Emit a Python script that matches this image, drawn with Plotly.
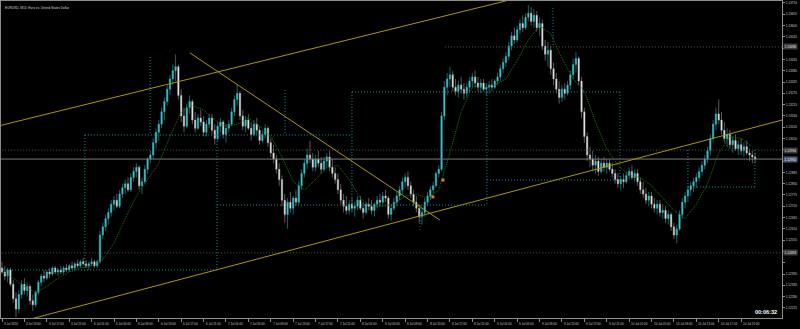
import plotly.graph_objects as go

title_text = "EURUSD, M15: Euro vs. United States Dollar"
timer_text = "00:06:32"

# ---- OHLC (30-min resolution) ----
open_ = [1.1242,1.1240,1.1238,1.1241,1.1234,1.1227,1.1222,1.1229,1.1234,1.1231,
1.1233,1.1226,1.1224,1.1230,1.1235,1.1238,1.1237,1.1240,1.1239,1.1242,
1.1240,1.1241,1.1240,1.1242,1.1241,1.1243,1.1242,1.1244,1.1243,1.1245,
1.1244,1.1243,1.1244,1.1245,1.1243,1.1245,1.1258,1.1262,1.1266,1.1269,
1.1273,1.1275,1.1272,1.1278,1.1281,1.1283,1.1280,1.1286,1.1289,1.1291,
1.1282,1.1284,1.1290,1.1295,1.1297,1.1303,1.1308,1.1312,1.1318,1.1323,
1.1329,1.1334,1.1338,1.1340,1.1326,1.1316,1.1311,1.1320,1.1323,1.1314,
1.1310,1.1315,1.1313,1.1308,1.1312,1.1315,1.1309,1.1305,1.1311,1.1313,
1.1307,1.1310,1.1312,1.1318,1.1324,1.1327,1.1316,1.1311,1.1314,1.1310,
1.1307,1.1312,1.1309,1.1304,1.1307,1.1310,1.1303,1.1298,1.1295,1.1290,
1.1285,1.1275,1.1268,1.1274,1.1271,1.1276,1.1274,1.1282,1.1288,1.1293,
1.1297,1.1295,1.1291,1.1295,1.1293,1.1290,1.1294,1.1296,1.1291,1.1288,
1.1285,1.1280,1.1275,1.1272,1.1270,1.1273,1.1271,1.1272,1.1275,1.1271,
1.1269,1.1273,1.1272,1.1270,1.1273,1.1275,1.1274,1.1277,1.1276,1.1268,
1.1271,1.1274,1.1277,1.1280,1.1284,1.1286,1.1282,1.1278,1.1274,1.1271,
1.1267,1.1269,1.1274,1.1277,1.1280,1.1282,1.1288,1.1290,1.1316,1.1330,
1.1334,1.1336,1.1330,1.1328,1.1331,1.1329,1.1327,1.1330,1.1333,1.1335,
1.1332,1.1330,1.1332,1.1329,1.1330,1.1331,1.1330,1.1333,1.1335,1.1339,
1.1342,1.1345,1.1350,1.1355,1.1353,1.1358,1.1361,1.1359,1.1364,1.1366,
1.1362,1.1365,1.1359,1.1361,1.1350,1.1346,1.1348,1.1339,1.1334,1.1329,
1.1325,1.1329,1.1327,1.1331,1.1336,1.1341,1.1344,1.1333,1.1318,1.1306,
1.1297,1.1295,1.1292,1.1294,1.1289,1.1293,1.1291,1.1293,1.1290,1.1288,
1.1285,1.1283,1.1285,1.1284,1.1287,1.1289,1.1286,1.1288,1.1284,1.1280,
1.1278,1.1275,1.1277,1.1273,1.1271,1.1273,1.1269,1.1270,1.1266,1.1268,
1.1262,1.1258,1.1261,1.1268,1.1274,1.1277,1.1280,1.1282,1.1284,1.1286,
1.1289,1.1292,1.1295,1.1299,1.1305,1.1312,1.1317,1.1314,1.1309,1.1305,
1.1307,1.1302,1.1304,1.1300,1.1302,1.1299,1.1301,1.1298,1.1297,1.1296]

high = [1.1245,1.1243,1.1242,1.1242,1.1236,1.1230,1.1231,1.1236,1.1237,1.1235,
1.1234,1.1229,1.1231,1.1236,1.1239,1.1241,1.1241,1.1242,1.1243,1.1243,
1.1242,1.1243,1.1243,1.1244,1.1244,1.1245,1.1245,1.1246,1.1246,1.1247,
1.1246,1.1245,1.1247,1.1246,1.1246,1.1260,1.1264,1.1268,1.1271,1.1275,
1.1277,1.1278,1.1280,1.1283,1.1285,1.1286,1.1288,1.1291,1.1293,1.1292,
1.1286,1.1292,1.1296,1.1299,1.1305,1.1310,1.1314,1.1320,1.1325,1.1331,
1.1336,1.1341,1.1346,1.1341,1.1329,1.1320,1.1322,1.1326,1.1324,1.1318,
1.1317,1.1319,1.1316,1.1314,1.1317,1.1317,1.1312,1.1313,1.1315,1.1314,
1.1312,1.1314,1.1320,1.1326,1.1331,1.1328,1.1319,1.1316,1.1317,1.1313,
1.1314,1.1315,1.1311,1.1309,1.1312,1.1311,1.1305,1.1302,1.1297,1.1293,
1.1287,1.1278,1.1276,1.1279,1.1277,1.1280,1.1284,1.1290,1.1295,1.1300,
1.1304,1.1298,1.1297,1.1299,1.1296,1.1296,1.1298,1.1299,1.1295,1.1291,
1.1288,1.1283,1.1278,1.1277,1.1275,1.1276,1.1274,1.1277,1.1277,1.1274,
1.1274,1.1276,1.1275,1.1274,1.1277,1.1278,1.1279,1.1280,1.1277,1.1273,
1.1276,1.1279,1.1282,1.1286,1.1288,1.1289,1.1284,1.1280,1.1277,1.1273,
1.1271,1.1276,1.1279,1.1282,1.1284,1.1289,1.1292,1.1318,1.1333,1.1337,
1.1340,1.1338,1.1334,1.1333,1.1335,1.1332,1.1332,1.1335,1.1337,1.1338,
1.1335,1.1334,1.1334,1.1332,1.1333,1.1334,1.1334,1.1337,1.1341,1.1344,
1.1347,1.1352,1.1357,1.1359,1.1360,1.1363,1.1365,1.1366,1.1370,1.1369,
1.1368,1.1367,1.1364,1.1363,1.1353,1.1352,1.1350,1.1342,1.1337,1.1333,
1.1331,1.1332,1.1333,1.1338,1.1344,1.1347,1.1345,1.1335,1.1320,1.1308,
1.1301,1.1299,1.1297,1.1296,1.1295,1.1296,1.1295,1.1295,1.1293,1.1290,
1.1288,1.1287,1.1288,1.1289,1.1291,1.1292,1.1290,1.1290,1.1286,1.1284,
1.1281,1.1279,1.1279,1.1276,1.1275,1.1275,1.1273,1.1272,1.1270,1.1269,
1.1264,1.1263,1.1270,1.1276,1.1279,1.1282,1.1284,1.1286,1.1288,1.1291,
1.1294,1.1297,1.1301,1.1307,1.1314,1.1320,1.1324,1.1318,1.1313,1.1310,
1.1309,1.1306,1.1307,1.1304,1.1305,1.1303,1.1304,1.1300,1.1299,1.1298]

low = [1.1239,1.1236,1.1235,1.1233,1.1225,1.1218,1.1220,1.1227,1.1229,1.1228,
1.1224,1.1221,1.1223,1.1229,1.1233,1.1235,1.1236,1.1237,1.1238,1.1239,
1.1238,1.1239,1.1239,1.1240,1.1240,1.1241,1.1241,1.1242,1.1242,1.1243,
1.1242,1.1241,1.1243,1.1242,1.1242,1.1244,1.1256,1.1260,1.1263,1.1267,
1.1270,1.1271,1.1271,1.1276,1.1278,1.1279,1.1279,1.1284,1.1286,1.1280,
1.1278,1.1283,1.1288,1.1293,1.1295,1.1300,1.1304,1.1310,1.1314,1.1321,
1.1326,1.1331,1.1333,1.1324,1.1313,1.1308,1.1310,1.1317,1.1312,1.1308,
1.1309,1.1311,1.1306,1.1306,1.1310,1.1307,1.1302,1.1304,1.1308,1.1305,
1.1303,1.1308,1.1311,1.1316,1.1321,1.1314,1.1309,1.1308,1.1309,1.1304,
1.1306,1.1307,1.1302,1.1303,1.1305,1.1301,1.1296,1.1293,1.1288,1.1282,
1.1272,1.1264,1.1261,1.1269,1.1268,1.1272,1.1273,1.1280,1.1286,1.1290,
1.1293,1.1289,1.1289,1.1291,1.1288,1.1289,1.1291,1.1289,1.1286,1.1283,
1.1278,1.1273,1.1269,1.1268,1.1268,1.1269,1.1267,1.1270,1.1270,1.1266,
1.1268,1.1270,1.1268,1.1267,1.1271,1.1272,1.1273,1.1274,1.1266,1.1265,
1.1270,1.1272,1.1275,1.1278,1.1281,1.1280,1.1276,1.1272,1.1269,1.1264,
1.1263,1.1267,1.1272,1.1275,1.1278,1.1281,1.1286,1.1289,1.1314,1.1326,
1.1330,1.1328,1.1326,1.1325,1.1327,1.1324,1.1325,1.1328,1.1330,1.1330,
1.1328,1.1327,1.1328,1.1326,1.1327,1.1328,1.1329,1.1331,1.1333,1.1337,
1.1340,1.1343,1.1348,1.1351,1.1352,1.1356,1.1357,1.1358,1.1362,1.1360,
1.1359,1.1357,1.1355,1.1348,1.1343,1.1340,1.1336,1.1331,1.1327,1.1322,
1.1323,1.1324,1.1326,1.1329,1.1334,1.1337,1.1331,1.1315,1.1303,1.1294,
1.1291,1.1289,1.1288,1.1287,1.1288,1.1289,1.1288,1.1289,1.1286,1.1283,
1.1281,1.1280,1.1281,1.1283,1.1285,1.1285,1.1284,1.1282,1.1278,1.1276,
1.1273,1.1272,1.1271,1.1269,1.1268,1.1267,1.1266,1.1264,1.1263,1.1260,
1.1256,1.1254,1.1260,1.1266,1.1271,1.1274,1.1277,1.1279,1.1281,1.1284,
1.1287,1.1290,1.1293,1.1297,1.1303,1.1309,1.1312,1.1307,1.1303,1.1301,
1.1300,1.1298,1.1299,1.1297,1.1297,1.1296,1.1297,1.1294,1.1293,1.1293]

close = [1.1240,1.1238,1.1241,1.1234,1.1227,1.1222,1.1229,1.1234,1.1231,1.1233,
1.1226,1.1224,1.1230,1.1235,1.1238,1.1237,1.1240,1.1239,1.1242,1.1240,
1.1241,1.1240,1.1242,1.1241,1.1243,1.1242,1.1244,1.1243,1.1245,1.1244,
1.1243,1.1244,1.1245,1.1243,1.1245,1.1258,1.1262,1.1266,1.1269,1.1273,
1.1275,1.1272,1.1278,1.1281,1.1283,1.1280,1.1286,1.1289,1.1291,1.1282,
1.1284,1.1290,1.1295,1.1297,1.1303,1.1308,1.1312,1.1318,1.1323,1.1329,
1.1334,1.1338,1.1340,1.1326,1.1316,1.1311,1.1320,1.1323,1.1314,1.1310,
1.1315,1.1313,1.1308,1.1312,1.1315,1.1309,1.1305,1.1311,1.1313,1.1307,
1.1310,1.1312,1.1318,1.1324,1.1327,1.1316,1.1311,1.1314,1.1310,1.1307,
1.1312,1.1309,1.1304,1.1307,1.1310,1.1303,1.1298,1.1295,1.1290,1.1285,
1.1275,1.1268,1.1274,1.1271,1.1276,1.1274,1.1282,1.1288,1.1293,1.1297,
1.1295,1.1291,1.1295,1.1293,1.1290,1.1294,1.1296,1.1291,1.1288,1.1285,
1.1280,1.1275,1.1272,1.1270,1.1273,1.1271,1.1272,1.1275,1.1271,1.1269,
1.1273,1.1272,1.1270,1.1273,1.1275,1.1274,1.1277,1.1276,1.1268,1.1271,
1.1274,1.1277,1.1280,1.1284,1.1286,1.1282,1.1278,1.1274,1.1271,1.1267,
1.1269,1.1274,1.1277,1.1280,1.1282,1.1288,1.1290,1.1316,1.1330,1.1334,
1.1336,1.1330,1.1328,1.1331,1.1329,1.1327,1.1330,1.1333,1.1335,1.1332,
1.1330,1.1332,1.1329,1.1330,1.1331,1.1330,1.1333,1.1335,1.1339,1.1342,
1.1345,1.1350,1.1355,1.1353,1.1358,1.1361,1.1359,1.1364,1.1366,1.1362,
1.1365,1.1359,1.1361,1.1350,1.1346,1.1348,1.1339,1.1334,1.1329,1.1325,
1.1329,1.1327,1.1331,1.1336,1.1341,1.1344,1.1333,1.1318,1.1306,1.1297,
1.1295,1.1292,1.1294,1.1289,1.1293,1.1291,1.1293,1.1290,1.1288,1.1285,
1.1283,1.1285,1.1284,1.1287,1.1289,1.1286,1.1288,1.1284,1.1280,1.1278,
1.1275,1.1277,1.1273,1.1271,1.1273,1.1269,1.1270,1.1266,1.1268,1.1262,
1.1258,1.1261,1.1268,1.1274,1.1277,1.1280,1.1282,1.1284,1.1286,1.1289,
1.1292,1.1295,1.1299,1.1305,1.1312,1.1317,1.1314,1.1309,1.1305,1.1307,
1.1302,1.1304,1.1300,1.1302,1.1299,1.1301,1.1298,1.1297,1.1296,1.1295]

# moving average read every 4 bars
ma_bars = list(range(0, 270, 4))
ma_vals = [1.1240,1.1237,1.1233,1.1230,1.1233,1.1237,1.1240,1.1242,1.1243,1.1246,
1.1254,1.1266,1.1277,1.1285,1.1293,1.1306,1.1318,1.1321,1.1319,1.1314,
1.1311,1.1312,1.1315,1.1311,1.1306,1.1296,1.1284,1.1280,1.1285,1.1291,
1.1292,1.1285,1.1276,1.1272,1.1272,1.1273,1.1277,1.1278,1.1276,1.1280,
1.1298,1.1318,1.1330,1.1331,1.1331,1.1334,1.1343,1.1353,1.1360,1.1356,
1.1344,1.1334,1.1328,1.1313,1.1300,1.1292,1.1287,1.1286,1.1282,1.1276,
1.1270,1.1266,1.1273,1.1283,1.1298,1.1306,1.1305,1.1301]

# time axis labels (every 8 bars)
time_label_bars = list(range(0, 265, 8))
time_labels = ["3 Jul 2020","3 Jul 13:00","3 Jul 17:00","3 Jul 21:00",
"6 Jul 01:00","6 Jul 05:00","6 Jul 09:00","6 Jul 13:00","6 Jul 17:00","6 Jul 21:00",
"7 Jul 01:00","7 Jul 05:00","7 Jul 09:00","7 Jul 13:00","7 Jul 17:00","7 Jul 21:00",
"8 Jul 01:00","8 Jul 05:00","8 Jul 09:00","8 Jul 13:00","8 Jul 17:00","8 Jul 21:00",
"9 Jul 01:00","9 Jul 05:00","9 Jul 09:00","9 Jul 13:00","9 Jul 17:00","9 Jul 21:00",
"10 Jul 01:00","10 Jul 05:00","10 Jul 09:00","10 Jul 13:00","10 Jul 17:00","10 Jul 21:00"]

price_ticks = [1.13710,1.13655,1.13600,1.13545,1.13490,1.13435,1.13380,1.13325,
1.13270,1.13215,1.13160,1.13105,1.13050,1.12995,1.12940,1.12885,1.12830,1.12775,
1.12720,1.12665,1.12610,1.12555,1.12500,1.12445,1.12390,1.12335,1.12280,1.12225]
# tick labels hidden behind the highlighted line-price boxes
hidden_tick_labels = [1.13490, 1.12995, 1.12940, 1.12445]

# trend lines (bar, price) pairs
trend_upper = [(-0.71, 1.13113), (181.4, 1.13725)]
trend_lower = [(7.5, 1.12161), (278.6, 1.13140)]
trend_down = [(67.1, 1.13467), (156.4, 1.12653)]

# dotted range boxes segments (x0, y0, x1, y1) in bar / price
box_segments = [
    (-0.7, 1.12410, 76.8, 1.12410),
    (29.6, 1.13067, 29.6, 1.12410),
    (29.6, 1.13067, 125.0, 1.13067),
    (52.9, 1.13447, 52.9, 1.13067),
    (76.8, 1.13067, 76.8, 1.12410),
    (76.8, 1.12726, 173.2, 1.12726),
    (101.1, 1.13286, 101.1, 1.13067),
    (125.0, 1.13277, 125.0, 1.12726),
    (125.0, 1.13277, 220.7, 1.13277),
    (149.3, 1.12726, 149.3, 1.12605),
    (173.2, 1.13277, 173.2, 1.12726),
    (173.2, 1.12848, 220.7, 1.12848),
    (196.8, 1.13686, 196.8, 1.13496),
    (220.7, 1.13277, 220.7, 1.12848),
    (245.0, 1.12994, 245.0, 1.12814),
    (245.0, 1.12814, 268.9, 1.12814),
    (268.9, 1.12994, 268.9, 1.12814),
]

# horizontal level lines: (start bar, price, style)
level_lines = [(158.2, 1.13496, "dot"), (-1, 1.12994, "dot"), (-1, 1.12950, "solid"), (-1, 1.12493, "dot")]
level_labels = [(1.13496, "1.13496", "#3a3a3a"), (1.12994, "1.12994", "#3a3a3a"),
                (1.12950, "1.12950", "#4a5878"), (1.12493, "1.12493", "#3a3a3a")]

trade_marks_x = [153.9, 157.5]
trade_marks_y = [1.12766, 1.12848]

X_MAX = 278.6
bars = list(range(len(close)))

fig = go.Figure()

bx, by = [], []
for x0, y0, x1, y1 in box_segments:
    bx += [x0, x1, None]
    by += [y0, y1, None]
fig.add_trace(go.Scatter(x=bx, y=by, mode="lines", line=dict(color="#1d8f98", width=1, dash="1px,2px"),
                         hoverinfo="skip", showlegend=False))

for x0, p, st in level_lines:
    fig.add_trace(go.Scatter(x=[x0, X_MAX + 1], y=[p, p], mode="lines",
                             line=dict(color="#7a7a7a" if st == "solid" else "#5a5a5a", width=1,
                                       dash="solid" if st == "solid" else "1px,2px"),
                             hoverinfo="skip", showlegend=False))

for seg in (trend_upper, trend_lower, trend_down):
    fig.add_trace(go.Scatter(x=[seg[0][0], seg[1][0]], y=[seg[0][1], seg[1][1]], mode="lines",
                             line=dict(color="#a8960c", width=1), hoverinfo="skip", showlegend=False))

fig.add_trace(go.Candlestick(
    x=bars, open=open_, high=high, low=low, close=close,
    increasing=dict(line=dict(color="#36c4cc", width=0.5), fillcolor="#36c4cc"),
    decreasing=dict(line=dict(color="#b4b4b4", width=0.5), fillcolor="#f2f2f2"),
    whiskerwidth=0, hoverinfo="skip", showlegend=False))

fig.add_trace(go.Scatter(x=ma_bars, y=ma_vals, mode="lines",
                         line=dict(color="#1c7a1c", width=1, dash="1px,1px"),
                         hoverinfo="skip", showlegend=False))

fig.add_trace(go.Scatter(x=trade_marks_x, y=trade_marks_y, mode="markers",
                         marker=dict(color="#e8781e", size=3, symbol="square"),
                         hoverinfo="skip", showlegend=False))

annotations = []
for b, t in zip(time_label_bars, time_labels):
    annotations.append(dict(x=b, y=0, xref="x", yref="paper", text=t, showarrow=False,
                            xanchor="left", yanchor="top", xshift=0, yshift=-2,
                            font=dict(size=3, color="#c8c8c8", family="Liberation Sans")))
for p, t, c in level_labels:
    annotations.append(dict(x=1, y=p, xref="paper", yref="y", text=t, showarrow=False,
                            xanchor="left", yanchor="middle", xshift=1, bgcolor=c, borderpad=0.6,
                            font=dict(size=3.2, color="#e8e8e8", family="Liberation Sans")))
annotations.append(dict(x=0, y=1, xref="paper", yref="paper", text=title_text, showarrow=False,
                        xanchor="left", yanchor="top", xshift=2, yshift=-3,
                        font=dict(size=3.2, color="#d8d8d8", family="Liberation Sans")))
annotations.append(dict(x=1, y=0, xref="paper", yref="paper", text="<b>" + timer_text + "</b>",
                        showarrow=False, xanchor="right", yanchor="bottom", xshift=-3, yshift=1,
                        font=dict(size=5.5, color="#ffffff", family="Liberation Sans")))

tick_text = ["" if v in hidden_tick_labels else "%.5f" % v for v in price_ticks]

fig.update_layout(
    width=800, height=329, template="none",
    paper_bgcolor="#000000", plot_bgcolor="#000000",
    margin=dict(l=1, r=18, t=1, b=11, autoexpand=False),
    showlegend=False, annotations=annotations,
    xaxis=dict(range=[-0.36, X_MAX], showgrid=False, zeroline=False, showline=True, mirror=True,
               linecolor="#8c8c8c", linewidth=1, ticks="outside", ticklen=3, tickcolor="#8c8c8c",
               tickvals=time_label_bars, showticklabels=False, rangeslider=dict(visible=False),
               automargin=False, fixedrange=True),
    yaxis=dict(range=[1.121760, 1.137197], side="right", showgrid=False, zeroline=False,
               showline=True, mirror=True, linecolor="#8c8c8c", linewidth=1, ticks="outside",
               ticklen=2, tickcolor="#8c8c8c", tickvals=price_ticks, ticktext=tick_text,
               tickfont=dict(size=3.2, color="#c8c8c8", family="Liberation Sans"),
               automargin=False, fixedrange=True),
)

fig.write_html("out.html")
